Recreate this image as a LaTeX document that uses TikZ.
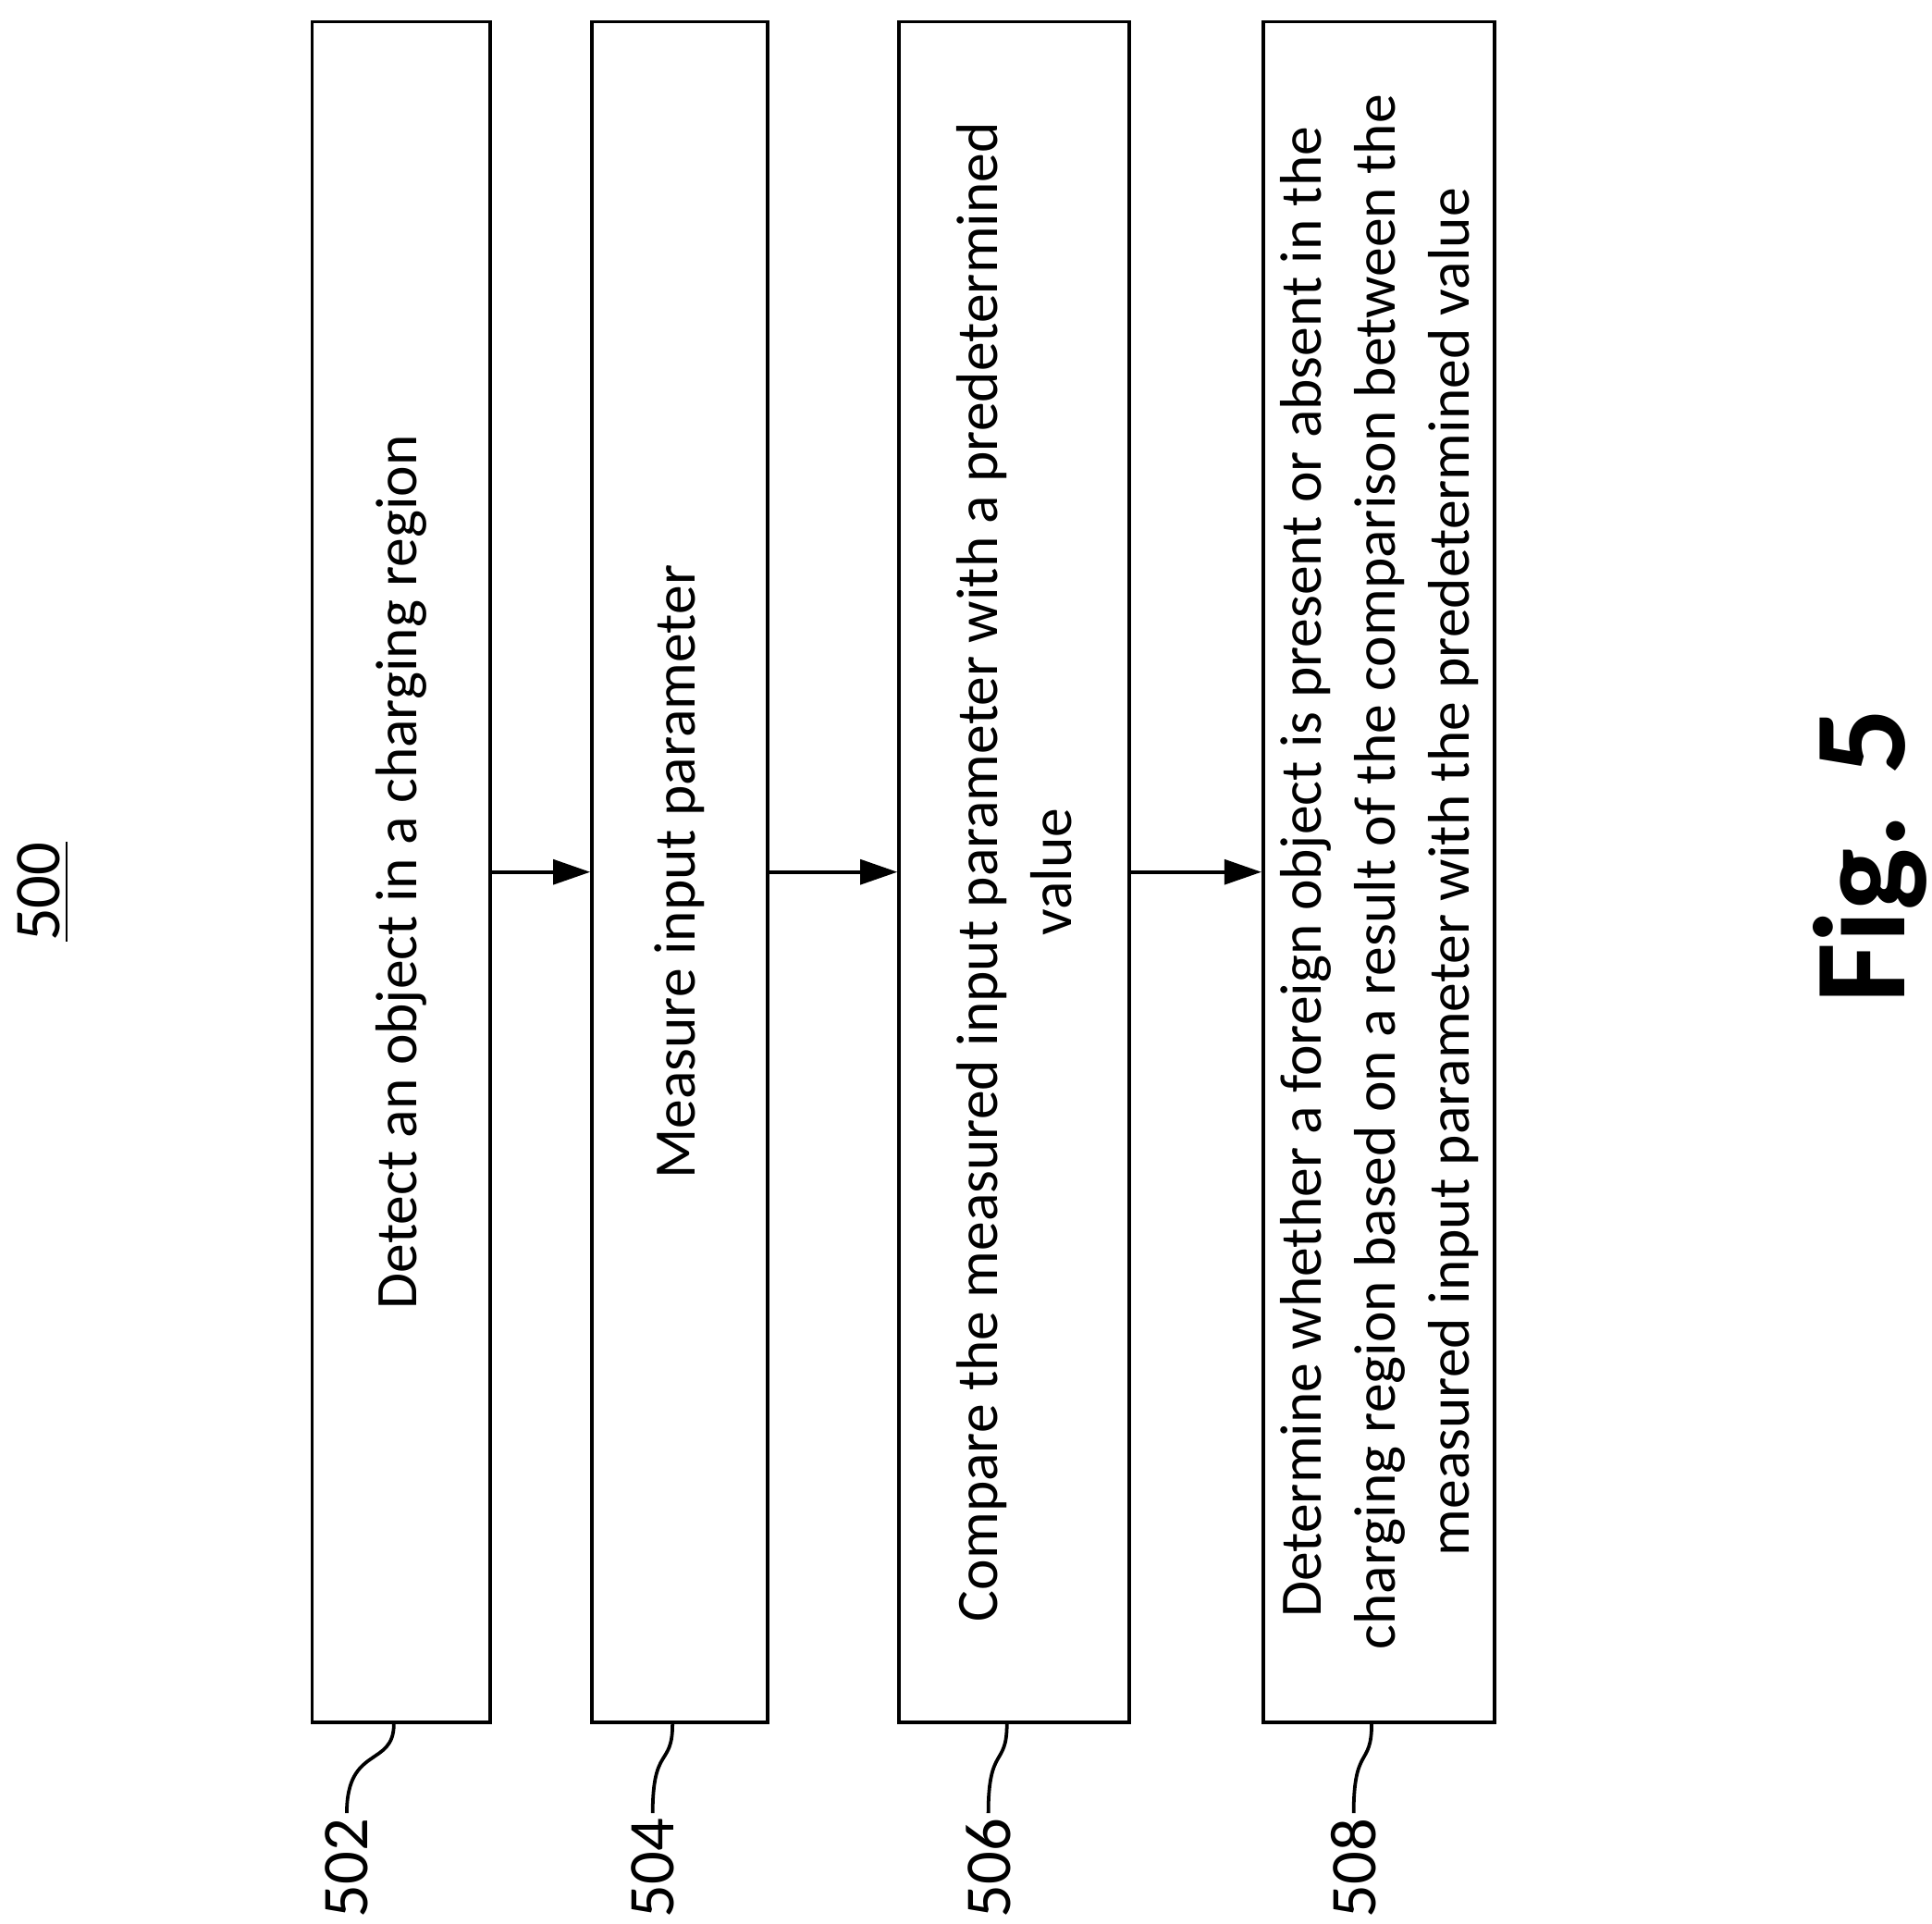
\documentclass[tikz,border=0pt]{standalone}
\usepackage{fontspec}
\setmainfont{Carlito}
\usetikzlibrary{positioning, arrows.meta}

\begin{document}
\begin{tikzpicture}[
    flowstep/.style={rectangle, draw, thick, rotate=90, minimum width=13.73cm, align=center, font=\fontsize{13.5}{17}\selectfont},
    ref/.style={rotate=90, font=\fontsize{15}{18}\selectfont, inner sep=1pt},
    arrow/.style={-{Triangle[length=3mm, width=2mm]}, thick},
    hook/.style={thick},
]
\useasboundingbox (0,0) rectangle (15.60,15.53);

% Title
\node[rotate=90, font=\fontsize{15}{18}\selectfont] (title) at (0.35,8.33) {\underline{500}};

% Steps
\node[flowstep, minimum height=1.44cm] (detect) at (3.24,8.49) {Detect an object in a charging region};
\node[flowstep, minimum height=1.42cm] (measure) at (5.49,8.49) {Measure input parameter};
\node[flowstep, minimum height=1.86cm] (compare) at (8.19,8.49) {Compare the measured input parameter with a predetermined\\value};
\node[flowstep, minimum height=1.87cm] (decide) at (11.135,8.49) {Determine whether a foreign object is present or absent in the\\charging region based on a result of the comparison between the\\measured input parameter with the predetermined value};

% Arrows
\draw[arrow] (detect) -- (measure);
\draw[arrow] (measure) -- (compare);
\draw[arrow] (compare) -- (decide);

% Reference numerals
\node[ref] (ref502) at (2.80,0.45) {502};
\node[ref] (ref504) at (5.27,0.45) {504};
\node[ref] (ref506) at (7.98,0.45) {506};
\node[ref] (ref508) at (10.93,0.45) {508};
\draw[hook] (ref502.east) .. controls +(0,0.55) and +(0,-0.35) .. ([xshift=-0.06cm]detect.west);
\draw[hook] (ref504.east) .. controls +(0,0.55) and +(0,-0.35) .. ([xshift=-0.06cm]measure.west);
\draw[hook] (ref506.east) .. controls +(0,0.55) and +(0,-0.35) .. ([xshift=-0.06cm]compare.west);
\draw[hook] (ref508.east) .. controls +(0,0.55) and +(0,-0.35) .. ([xshift=-0.06cm]decide.west);

% Figure label
\node[rotate=90, font=\bfseries\fontsize{30}{36}\selectfont] (fig) at (15.10,8.62) {Fig. 5};
\end{tikzpicture}
\end{document}
